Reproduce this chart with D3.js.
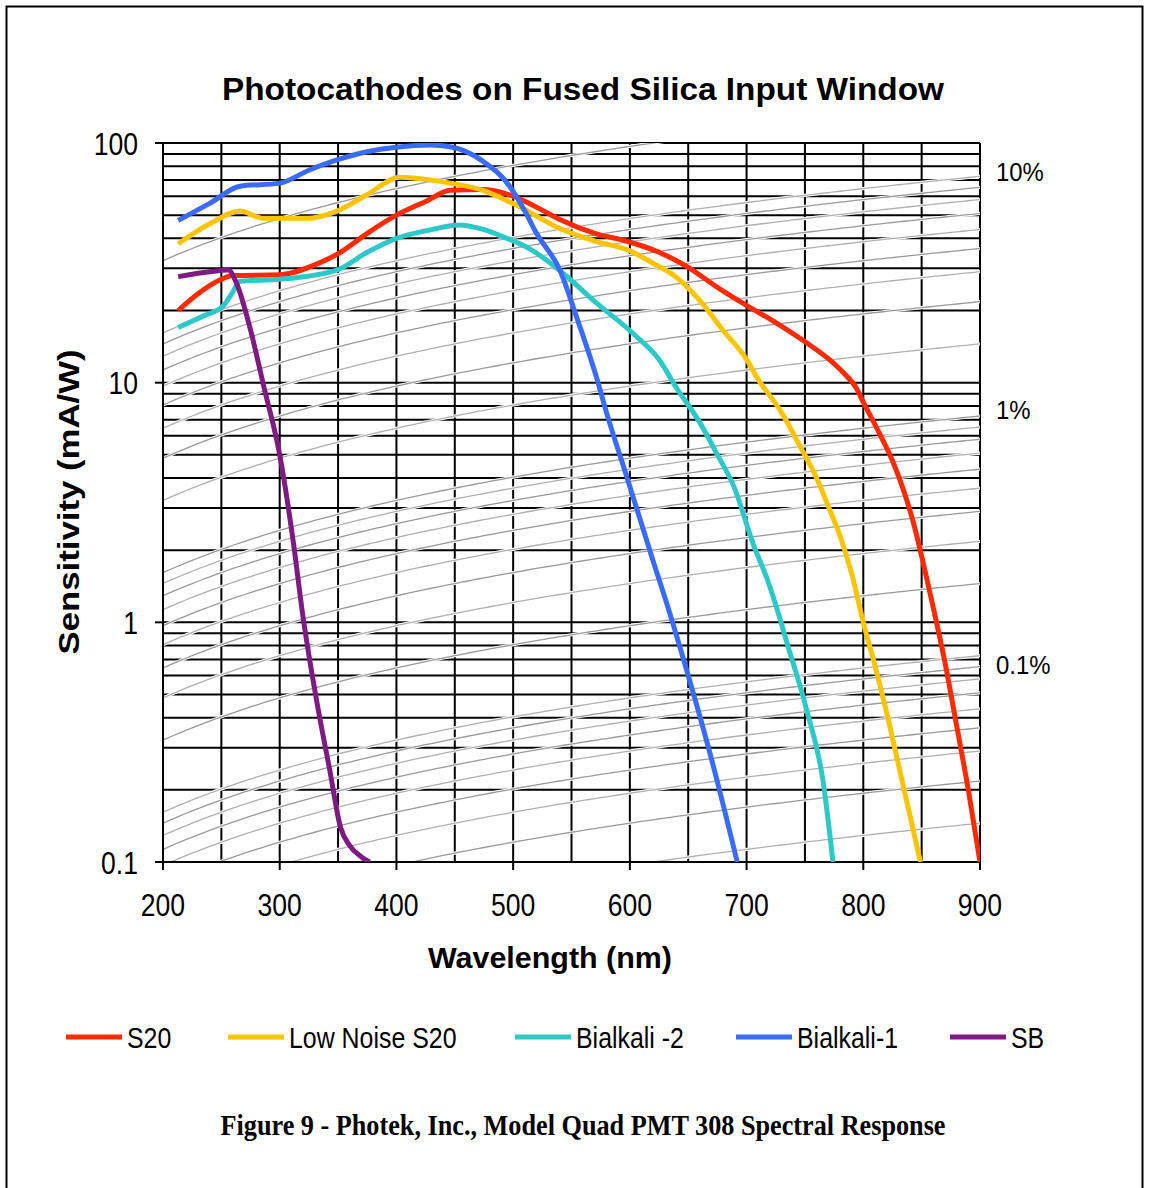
<!DOCTYPE html>
<html>
<head>
<meta charset="utf-8">
<script src="https://cdn.jsdelivr.net/npm/d3@7"></script>
<style>
  body { margin: 0; background: #fff; }
  svg text { font-family: "Liberation Sans", Arial, sans-serif; fill: #000; }
</style>
</head>
<body>
<div id="vis"></div>
<script>
// wavelength (nm) / sensitivity (mA/W)
const s20Wl   = [213, 230, 250, 260, 300, 330, 352, 375, 400, 425, 446, 474, 500, 520, 540, 570, 597, 625, 649, 675, 700, 725, 752, 770, 783, 794, 800, 812, 826, 835, 843, 851, 860, 870, 880, 890, 900];
const s20Val  = [20, 23.5, 27, 28, 28.2, 31, 35, 42, 50, 57, 63.5, 64, 60, 54, 48, 42, 39, 35, 30.5, 25, 21, 17.8, 14.6, 12.6, 11, 9.5, 8.3, 6.4, 4.6, 3.5, 2.6, 1.8, 1.15, 0.68, 0.37, 0.2, 0.1];

const lnWl    = [213, 240, 266, 286, 323, 349, 375, 403, 430, 446, 474, 503, 540, 570, 600, 620, 640, 660, 680, 700, 709, 730, 746, 760, 770, 780, 790, 800, 810, 820, 834, 849];
const lnVal   = [38, 46, 52, 48.5, 48.5, 52, 61, 72, 70, 68, 63.5, 55, 44, 39, 35.5, 31.5, 27.5, 22, 16.5, 12.5, 10.5, 7.5, 5.4, 4, 3.05, 2.3, 1.6, 1.0, 0.66, 0.42, 0.21, 0.1];

const bi2Wl   = [213, 235, 252, 260, 266, 300, 349, 375, 400, 430, 454, 475, 492, 515, 532, 545, 569, 603, 625, 640, 660, 675, 689, 706, 718, 729, 734, 751, 766, 774];
const bi2Val  = [17, 19, 21, 24, 26.5, 27, 29.5, 35, 40, 43.5, 45.5, 43.5, 40.5, 36, 31.5, 28, 22, 16, 12.5, 9.5, 6.8, 5, 3.7, 2.1, 1.5, 1.02, 0.84, 0.44, 0.21, 0.1];

const bi1Wl   = [213, 240, 266, 300, 325, 349, 375, 400, 429, 446, 474, 497, 510, 520, 540, 554, 572, 580, 597, 620, 634, 650, 669, 692];
const bi1Val  = [47.5, 56, 66, 68, 77, 85, 92, 96, 98, 96.5, 84, 66, 52, 42, 29.5, 19, 10.3, 7.5, 4.1, 1.8, 1.1, 0.6, 0.28, 0.1];

const sbWl    = [213, 240, 256, 263, 275, 286, 300, 312, 320, 323, 332, 343, 352, 360, 370, 377];
const sbVal   = [27.7, 29, 29.5, 26, 16.6, 9.8, 5, 2.1, 1.05, 0.84, 0.46, 0.24, 0.14, 0.117, 0.105, 0.1];

const seriesNames  = ["S20", "Low Noise S20", "Bialkali -2", "Bialkali-1", "SB"];
const seriesColors = ["#ff2a00", "#ffc400", "#2ec8c8", "#3a6bff", "#7e1a82"];

// quantum efficiency levels of the grey guide curves
const qeLevels = [0.0002, 0.0003, 0.0004, 0.0005, 0.0006, 0.0007, 0.0008, 0.0009, 0.001,
                  0.002, 0.003, 0.004, 0.005, 0.006, 0.007, 0.008, 0.009, 0.01,
                  0.02, 0.03, 0.04, 0.05, 0.06, 0.07, 0.08, 0.09, 0.1, 0.2];
const qeLabelVals = [0.1, 0.01, 0.001];
const qeLabels    = ["10%", "1%", "0.1%"];

const xTicks = [200, 300, 400, 500, 600, 700, 800, 900];
const yTicks = [0.1, 1, 10, 100];
const yTickLabels = ["0.1", "1", "10", "100"];

// sensitivity in mA/W for a quantum efficiency at a wavelength in nm
const qeToSens = (q, l) => q * l / 1.2398;

function condense(sel, f){
  sel.each(function(){
    const w = this.getComputedTextLength();
    this.setAttribute("textLength", w * f);
    this.setAttribute("lengthAdjust", "spacingAndGlyphs");
  });
}

function draw(){
  const width = 1149, height = 1188;
  const plot = {left: 163, right: 980, top: 143, bottom: 862};

  const svg = d3.select("#vis").append("svg")
    .attr("width", width)
    .attr("height", height);

  // outer frame (bottom edge is cut off in the original)
  svg.append("rect")
    .attr("x", 6.5).attr("y", 6.5)
    .attr("width", 1136).attr("height", 1250)
    .attr("fill", "none").attr("stroke", "#000").attr("stroke-width", 2);

  const x = d3.scaleLinear().domain([200, 900]).range([plot.left, plot.right]);
  const y = d3.scaleLog().domain([0.1, 100]).range([plot.bottom, plot.top]);

  svg.append("defs").append("clipPath").attr("id", "clip")
    .append("rect")
    .attr("x", plot.left).attr("y", plot.top)
    .attr("width", plot.right - plot.left).attr("height", plot.bottom - plot.top);

  // grid
  const grid = svg.append("g").attr("stroke", "#000").attr("stroke-width", 2);
  const vLines = d3.range(200, 901, 50);
  grid.selectAll(".v").data(vLines).join("line")
    .attr("x1", d => x(d)).attr("x2", d => x(d))
    .attr("y1", plot.top).attr("y2", plot.bottom);
  const hLines = [];
  [0.1, 1, 10].forEach(dec => d3.range(1, 10).forEach(m => hLines.push(dec * m)));
  hLines.push(100);
  grid.selectAll(".h").data(hLines).join("line")
    .attr("x1", plot.left).attr("x2", plot.right)
    .attr("y1", d => y(d)).attr("y2", d => y(d));

  // iso quantum-efficiency curves
  const wl = d3.range(200, 901, 5);
  const qeLine = d3.line()
    .x(d => x(d[0]))
    .y(d => y(d[1]));
  const qeData = qeLevels.map(q => wl.map(l => [l, qeToSens(q, l)]));
  const qe = svg.append("g").attr("clip-path", "url(#clip)").attr("fill", "none");
  qe.selectAll(".halo").data(qeData).join("path")
    .attr("d", qeLine)
    .attr("stroke", "#fff").attr("stroke-width", 3.2);
  qe.selectAll(".qe").data(qeData).join("path")
    .attr("d", qeLine)
    .attr("stroke", (d, i) => i % 2 ? "#999" : "#b0b0b0")
    .attr("stroke-width", 1.3);

  // axis lines and ticks
  const ax = svg.append("g").attr("stroke", "#000").attr("stroke-width", 2);
  ax.append("line").attr("x1", plot.left).attr("x2", plot.left).attr("y1", plot.top).attr("y2", plot.bottom);
  ax.append("line").attr("x1", plot.left).attr("x2", plot.right).attr("y1", plot.bottom).attr("y2", plot.bottom);
  ax.selectAll(".yt").data(yTicks).join("line")
    .attr("x1", plot.left - 8).attr("x2", plot.left)
    .attr("y1", d => y(d)).attr("y2", d => y(d));
  ax.selectAll(".xt").data(xTicks).join("line")
    .attr("x1", d => x(d)).attr("x2", d => x(d))
    .attr("y1", plot.bottom).attr("y2", plot.bottom + 8);

  // series
  const series = [
    [s20Wl, s20Val], [lnWl, lnVal], [bi2Wl, bi2Val], [bi1Wl, bi1Val], [sbWl, sbVal]
  ].map((s, i) => ({name: seriesNames[i], color: seriesColors[i],
                    pts: s[0].map((w, j) => [w, s[1][j]])}));
  const line = d3.line().curve(d3.curveMonotoneX)
    .x(d => x(d[0])).y(d => y(d[1]));
  svg.append("g").attr("clip-path", "url(#clip)")
    .selectAll("path").data(series).join("path")
    .attr("d", d => line(d.pts))
    .attr("fill", "none")
    .attr("stroke", d => d.color)
    .attr("stroke-width", 5)
    .attr("stroke-linejoin", "round");

  // tick labels
  const yl = svg.append("g").selectAll("text").data(yTicks).join("text")
    .attr("x", 138).attr("y", d => y(d) + 11.5)
    .attr("text-anchor", "end")
    .style("font-size", "32px")
    .text((d, i) => yTickLabels[i]);
  condense(yl, 0.83);

  const xl = svg.append("g").selectAll("text").data(xTicks).join("text")
    .attr("x", d => x(d)).attr("y", 916)
    .attr("text-anchor", "middle")
    .style("font-size", "32px")
    .text(d => d);
  condense(xl, 0.83);

  const dys = [-4, -6, 9];
  const rl = svg.append("g").selectAll("text").data(qeLabelVals).join("text")
    .attr("x", 996)
    .attr("y", (d, i) => y(qeToSens(d, 900)) + dys[i] + 9)
    .style("font-size", "26px")
    .text((d, i) => qeLabels[i]);
  condense(rl, 0.92);

  // titles
  svg.append("text")
    .attr("x", 583).attr("y", 100)
    .attr("text-anchor", "middle")
    .style("font-size", "32px").style("font-weight", "bold")
    .attr("textLength", 722).attr("lengthAdjust", "spacingAndGlyphs")
    .text("Photocathodes on Fused Silica Input Window");

  svg.append("text")
    .attr("transform", "translate(79,502) rotate(-90)")
    .attr("text-anchor", "middle")
    .style("font-size", "29px").style("font-weight", "bold")
    .attr("textLength", 305).attr("lengthAdjust", "spacingAndGlyphs")
    .text("Sensitivity (mA/W)");

  svg.append("text")
    .attr("x", 550).attr("y", 968)
    .attr("text-anchor", "middle")
    .style("font-size", "29px").style("font-weight", "bold")
    .attr("textLength", 244).attr("lengthAdjust", "spacingAndGlyphs")
    .text("Wavelength (nm)");

  // legend
  const legendX = [66, 228, 515, 736, 950];
  const lg = svg.append("g").selectAll("g").data(series).join("g")
    .attr("transform", (d, i) => `translate(${legendX[i]},1037)`);
  lg.append("line")
    .attr("x1", 0).attr("x2", 56)
    .attr("stroke", d => d.color).attr("stroke-width", 5);
  const lt = lg.append("text")
    .attr("x", 61).attr("y", 11)
    .style("font-size", "30px")
    .text(d => d.name);
  condense(lt, 0.83);

  // caption
  svg.append("text")
    .attr("x", 583).attr("y", 1135)
    .attr("text-anchor", "middle")
    .style("font-family", "'Liberation Serif', 'Times New Roman', serif")
    .style("font-size", "29px").style("font-weight", "bold")
    .attr("textLength", 725).attr("lengthAdjust", "spacingAndGlyphs")
    .text("Figure 9 - Photek, Inc., Model Quad PMT 308 Spectral Response");
}

draw();
</script>
</body>
</html>
